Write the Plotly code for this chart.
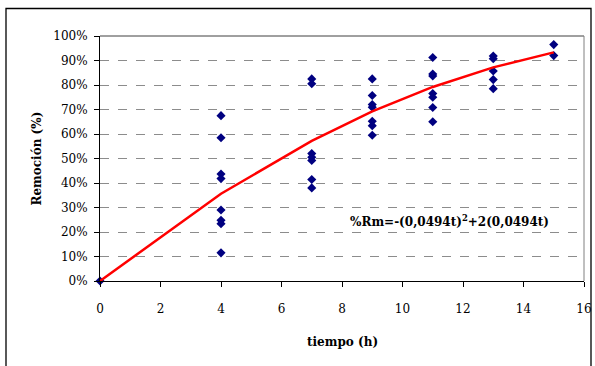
import plotly.graph_objects as go

# Observed data (time in h, removal fraction)
t_obs = [0,
         4, 4, 4, 4, 4, 4, 4, 4,
         7, 7, 7, 7, 7, 7, 7,
         9, 9, 9, 9, 9, 9, 9,
         11, 11, 11, 11, 11, 11, 11,
         13, 13, 13, 13, 13,
         15, 15]
rm_obs = [0.0,
          0.675, 0.585, 0.437, 0.418, 0.290, 0.248, 0.234, 0.115,
          0.825, 0.805, 0.520, 0.505, 0.492, 0.414, 0.380,
          0.825, 0.757, 0.720, 0.709, 0.652, 0.634, 0.595,
          0.912, 0.845, 0.837, 0.765, 0.750, 0.708, 0.650,
          0.918, 0.907, 0.857, 0.822, 0.785,
          0.965, 0.920]

# Fitted curve values
t_fit = [0, 4, 7, 9, 11, 13, 15]
rm_fit = [0.0, 0.356, 0.572, 0.692, 0.792, 0.872, 0.933]

x_ticks = [0, 2, 4, 6, 8, 10, 12, 14, 16]
y_ticks = [0, 0.1, 0.2, 0.3, 0.4, 0.5, 0.6, 0.7, 0.8, 0.9, 1.0]
y_tick_labels = ["0%", "10%", "20%", "30%", "40%", "50%", "60%", "70%", "80%", "90%", "100%"]

FONT = "DejaVu Serif"

fig = go.Figure()
fig.add_trace(go.Scatter(x=t_obs, y=rm_obs, mode="markers",
                         marker=dict(symbol="diamond", size=7, color="#000080",
                                     line=dict(width=0)),
                         showlegend=False, cliponaxis=False))
fig.add_trace(go.Scatter(x=t_fit, y=rm_fit, mode="lines",
                         line=dict(color="#FF0000", width=2.5),
                         showlegend=False, cliponaxis=False))

fig.update_layout(
    width=595, height=366, autosize=False,
    margin=dict(l=100, r=11, t=36, b=85, autoexpand=False),
    paper_bgcolor="white", plot_bgcolor="white",
    font=dict(family=FONT, size=12, color="black"),
    xaxis=dict(range=[0, 16], tickvals=x_ticks, showgrid=False, zeroline=False,
               showline=True, linecolor="black", linewidth=1,
               ticks="outside", ticklen=5, tickcolor="black",
               ticklabelstandoff=12, automargin=False,
               tickfont=dict(family=FONT, size=12, color="black")),
    yaxis=dict(range=[0, 1], tickvals=y_ticks, ticktext=y_tick_labels,
               showgrid=True, gridcolor="#8c8c8c", griddash="dash", gridwidth=1,
               zeroline=False, showline=True, linecolor="black", linewidth=1,
               ticks="outside", ticklen=5, tickcolor="black",
               ticklabelstandoff=4, automargin=False,
               tickfont=dict(family=FONT, size=12, color="black")),
    shapes=[
        # plot area top and right border
        dict(type="line", xref="paper", yref="paper", x0=0, x1=1, y0=1, y1=1,
             line=dict(color="#404040", width=1)),
        dict(type="line", xref="paper", yref="paper", x0=1, x1=1, y0=0, y1=1,
             line=dict(color="#808080", width=1)),
        # outer chart frame
        dict(type="rect", xref="paper", yref="paper",
             x0=(6 - 100) / 484, x1=(591 - 100) / 484,
             y0=(281 - 372) / 245, y1=(281 - 8.5) / 245,
             line=dict(color="black", width=1.3)),
    ],
    annotations=[
        dict(text="<b>%Rm=-(0,0494t)<sup>2</sup>+2(0,0494t)</b>", x=11.57, y=0.245,
             xref="x", yref="y", showarrow=False, xanchor="center", yanchor="middle",
             font=dict(family=FONT, size=12, color="black")),
        dict(text="<b>tiempo (h)</b>", x=0.5, y=(281 - 342) / 245, xref="paper", yref="paper",
             showarrow=False, xanchor="center", yanchor="middle",
             font=dict(family=FONT, size=12, color="black")),
        dict(text="<b>Remoción (%)</b>", x=(36 - 100) / 484, y=0.5, xref="paper", yref="paper",
             showarrow=False, xanchor="center", yanchor="middle", textangle=-90,
             font=dict(family=FONT, size=12, color="black")),
    ],
)

fig.write_html("out.html", config={"responsive": False, "displayModeBar": False})
